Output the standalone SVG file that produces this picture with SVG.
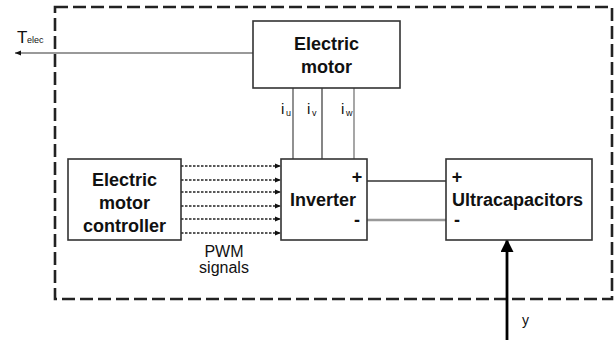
<svg xmlns="http://www.w3.org/2000/svg" width="614" height="340" viewBox="0 0 614 340">
<defs>
<style>
.box{fill:#fff;stroke:#333;stroke-width:1.6}
.lbl{font-family:"Liberation Sans",Arial,sans-serif;font-weight:bold;font-size:18px;fill:#111}
.reg{font-family:"Liberation Sans",Arial,sans-serif;fill:#111}
.dot{stroke:#222;stroke-width:1.6;stroke-dasharray:2.5 1.5;fill:none}
</style>
<marker id="sm" viewBox="0 0 6 6" refX="6" refY="3" markerWidth="6" markerHeight="6" markerUnits="userSpaceOnUse" orient="auto">
<path d="M0,0.5 L6,3 L0,5.5 Z" fill="#111"/>
</marker>
<marker id="big" viewBox="0 0 14 13" refX="13" refY="6.5" markerWidth="14" markerHeight="13" markerUnits="userSpaceOnUse" orient="auto">
<path d="M0,0 L13,6.5 L0,13 Z" fill="#000"/>
</marker>
</defs>
<rect id="boundary" x="55" y="7" width="557" height="292" fill="none" stroke="#222" stroke-width="2.6" stroke-dasharray="13 5"/>
<g id="connectors">
<line x1="253" y1="53" x2="15" y2="53" stroke="#777" stroke-width="1.3" marker-end="url(#sm)"/>
<line x1="293" y1="88" x2="293" y2="159" stroke="#555" stroke-width="1.3"/>
<line x1="322" y1="88" x2="322" y2="159" stroke="#444" stroke-width="1.3"/>
<line x1="354" y1="88" x2="354" y2="159" stroke="#777" stroke-width="1.3"/>
<line class="dot" x1="181" y1="166" x2="281" y2="166" marker-end="url(#sm)"/>
<line class="dot" x1="181" y1="180" x2="281" y2="180" marker-end="url(#sm)"/>
<line class="dot" x1="181" y1="192" x2="281" y2="192" marker-end="url(#sm)"/>
<line class="dot" x1="181" y1="206" x2="281" y2="206" marker-end="url(#sm)"/>
<line class="dot" x1="181" y1="219" x2="281" y2="219" marker-end="url(#sm)"/>
<line class="dot" x1="181" y1="233" x2="281" y2="233" marker-end="url(#sm)"/>
<line x1="367" y1="181" x2="446" y2="181" stroke="#333" stroke-width="1.5"/>
<line x1="367" y1="220" x2="446" y2="220" stroke="#999" stroke-width="2.5"/>
<line x1="507" y1="340" x2="507" y2="239" stroke="#000" stroke-width="2.8" marker-end="url(#big)"/>
<text class="reg" x="17" y="43" font-size="17">T</text>
<text class="reg" x="27" y="43" font-size="9">elec</text>
<text class="reg" x="281" y="114" font-size="15">i</text>
<text class="reg" x="286" y="116" font-size="9">u</text>
<text class="reg" x="307" y="114" font-size="15">i</text>
<text class="reg" x="312" y="116" font-size="9">v</text>
<text class="reg" x="341" y="114" font-size="15">i</text>
<text class="reg" x="346" y="116" font-size="9">w</text>
<text class="reg" x="224" y="257" font-size="16" text-anchor="middle">PWM</text>
<text class="reg" x="224" y="273" font-size="16" text-anchor="middle">signals</text>
<text class="reg" x="522" y="325" font-size="14">y</text>
</g>
<g id="motor">
<rect class="box" x="253" y="21" width="147" height="67"/>
<text class="lbl" x="326.5" y="50" text-anchor="middle">Electric</text>
<text class="lbl" x="326.5" y="73" text-anchor="middle">motor</text>
</g>
<g id="controller">
<rect class="box" x="68" y="159" width="113" height="81"/>
<text class="lbl" x="124.5" y="186" text-anchor="middle">Electric</text>
<text class="lbl" x="124.5" y="209" text-anchor="middle">motor</text>
<text class="lbl" x="124.5" y="232" text-anchor="middle">controller</text>
</g>
<g id="inverter">
<rect class="box" x="281" y="159" width="86" height="81"/>
<text class="lbl" x="323" y="206" text-anchor="middle">Inverter</text>
<text class="lbl" x="357" y="183" text-anchor="middle">+</text>
<text class="lbl" x="357" y="226" text-anchor="middle">-</text>
</g>
<g id="ultracapacitors">
<rect class="box" x="446" y="159" width="146" height="81"/>
<text class="lbl" x="452" y="206">Ultracapacitors</text>
<text class="lbl" x="457" y="183" text-anchor="middle">+</text>
<text class="lbl" x="457" y="226" text-anchor="middle">-</text>
</g>
</svg>
